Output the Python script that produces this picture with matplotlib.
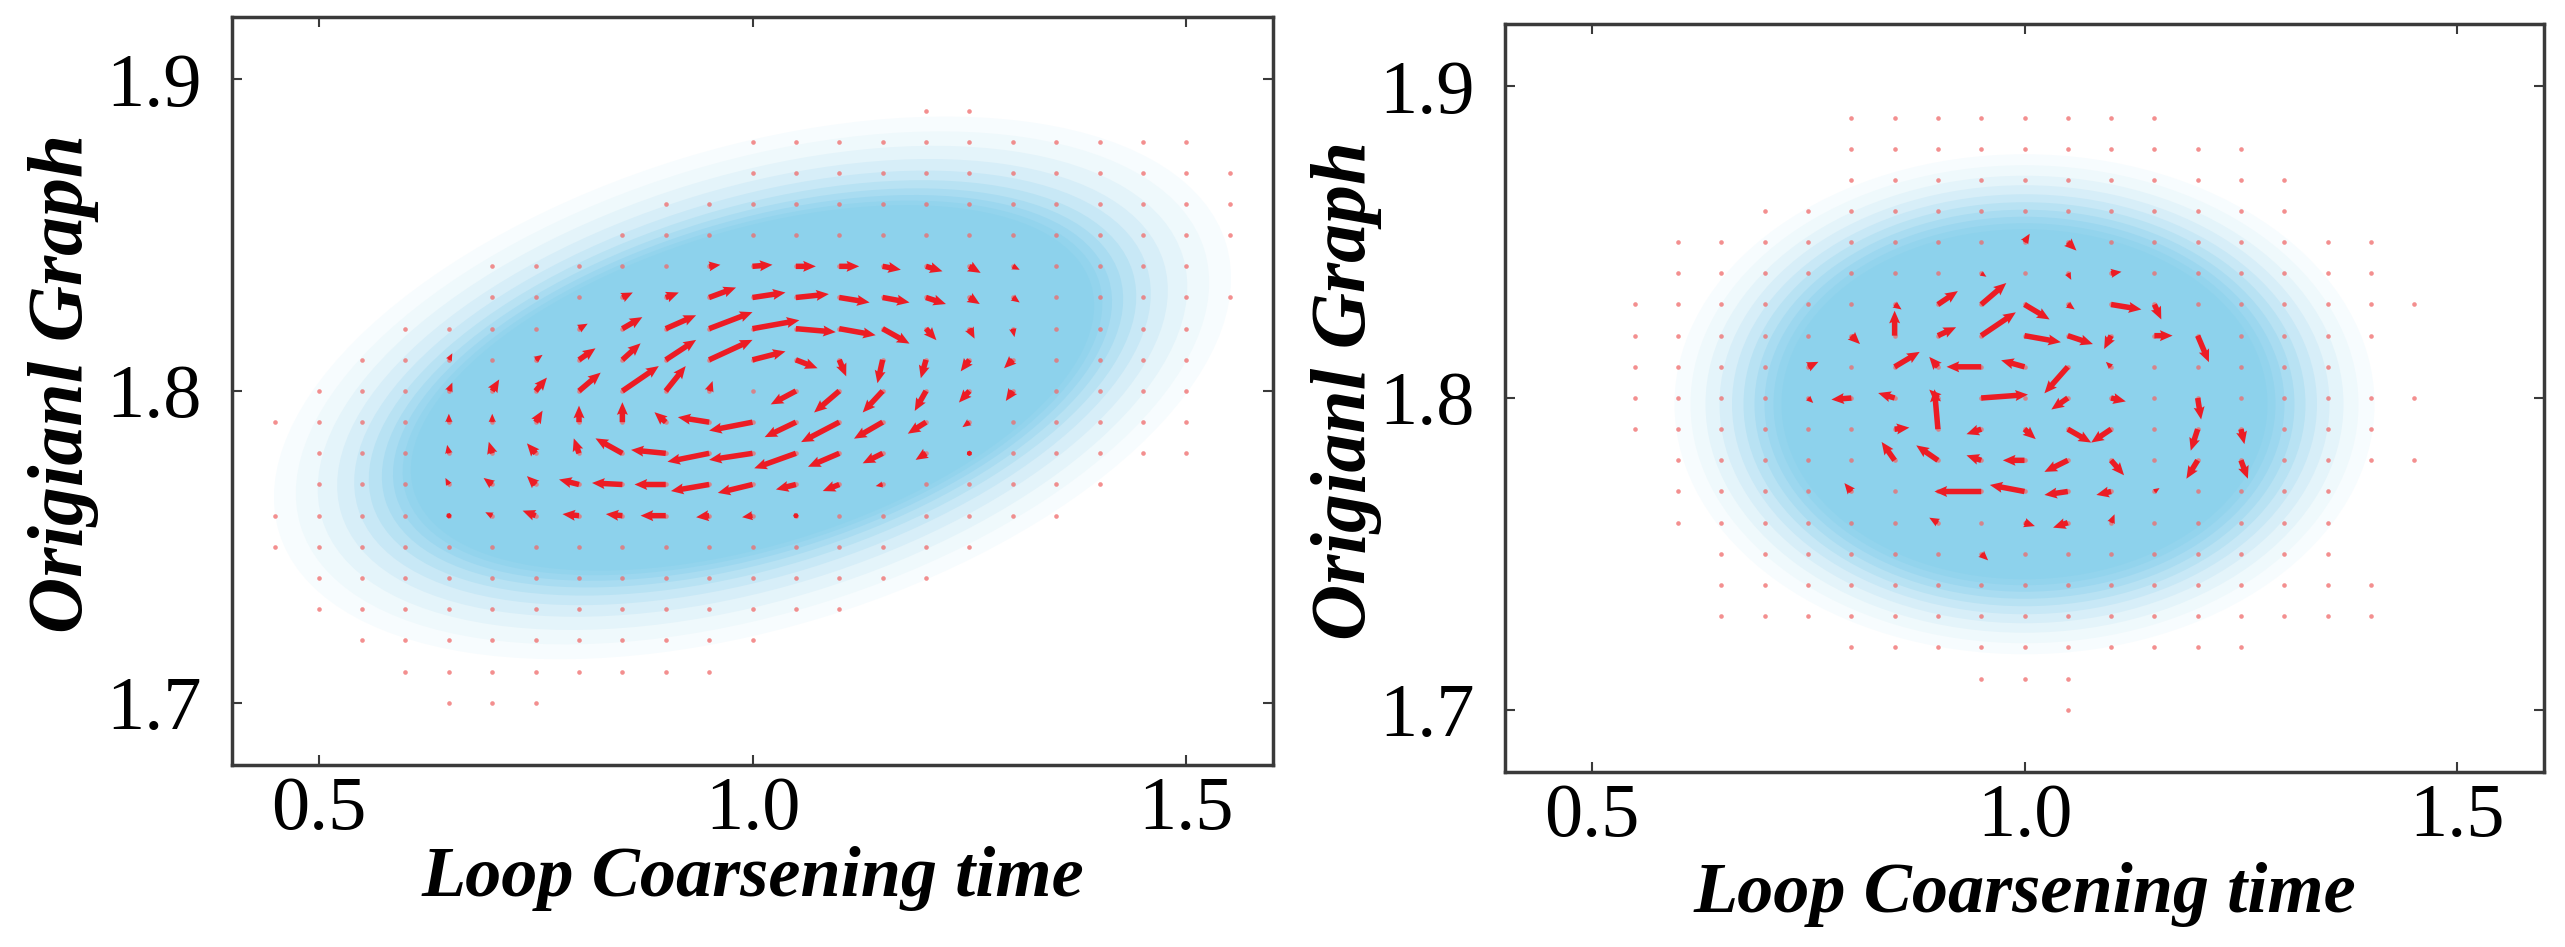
import numpy as np
import matplotlib
matplotlib.use("Agg")
import matplotlib.pyplot as plt
from matplotlib.patches import Ellipse
from matplotlib.transforms import ScaledTranslation

# ---------------- shared axis description ----------------
X_LIMITS = (0.4, 1.6)
Y_LIMITS = (1.68, 1.92)
X_TICKS = [0.5, 1.0, 1.5]
X_TICK_LABELS = ["0.5", "1.0", "1.5"]
Y_TICKS = [1.7, 1.8, 1.9]
Y_TICK_LABELS = ["1.7", "1.8", "1.9"]
X_LABEL = "Loop Coarsening time"
Y_LABEL = "Origianl Graph"
GRID_STEP_X = 0.05

# ---------------- left panel ----------------
# rows of the sampling grid and x-range where grid points are shown
LEFT_ROW_Y    = [1.70, 1.71, 1.72, 1.73, 1.74, 1.75, 1.76, 1.77, 1.78, 1.79,
                 1.80, 1.81, 1.82, 1.83, 1.84, 1.85, 1.86, 1.87, 1.88, 1.89]
LEFT_ROW_XMIN = [0.65, 0.60, 0.55, 0.50, 0.50, 0.45, 0.45, 0.50, 0.50, 0.45,
                 0.50, 0.55, 0.60, 0.70, 0.70, 0.85, 0.90, 1.00, 1.00, 1.20]
LEFT_ROW_XMAX = [0.75, 0.95, 1.00, 1.10, 1.20, 1.25, 1.35, 1.40, 1.50, 1.50,
                 1.50, 1.50, 1.50, 1.55, 1.50, 1.55, 1.55, 1.55, 1.50, 1.25]

# flow arrows (tail position and components in data units)
LEFT_ARROW_X = [
    0.95, 1.00, 1.05, 1.10, 1.15, 1.20, 1.25, 1.30,
    0.85, 0.90, 0.95, 1.00, 1.05, 1.10, 1.15, 1.20, 1.25, 1.30,
    0.80, 0.85, 0.90, 0.95, 1.00, 1.05, 1.10, 1.15, 1.20, 1.25, 1.30,
    0.65, 0.75, 0.80, 0.85, 0.90, 0.95, 1.00, 1.05, 1.10, 1.15, 1.20, 1.25, 1.30,
    0.65, 0.70, 0.75, 0.80, 0.85, 0.90, 0.95, 1.05, 1.10, 1.15, 1.20, 1.25, 1.30,
    0.65, 0.70, 0.75, 0.80, 0.85, 0.90, 0.95, 1.00, 1.05, 1.10, 1.15, 1.20, 1.25,
    0.65, 0.70, 0.75, 0.80, 0.85, 0.90, 0.95, 1.00, 1.05, 1.10, 1.15, 1.20, 1.25,
    0.65, 0.70, 0.75, 0.80, 0.85, 0.90, 0.95, 1.00, 1.05, 1.10, 1.15,
    0.65, 0.70, 0.75, 0.80, 0.85, 0.90, 0.95, 1.00, 1.05,
]
LEFT_ARROW_Y = (
    [1.84] * 8 + [1.83] * 10 + [1.82] * 11 + [1.81] * 13 + [1.80] * 13
    + [1.79] * 13 + [1.78] * 13 + [1.77] * 11 + [1.76] * 9
)
LEFT_ARROW_U = [
    0.013, 0.023, 0.023, 0.023, 0.021, 0.019, 0.013, 0.008,
    0.012, 0.015, 0.031, 0.038, 0.038, 0.035, 0.031, 0.023, 0.012, 0.008,
    0.010, 0.023, 0.035, 0.050, 0.054, 0.046, 0.042, 0.031, 0.012, 0.006, 0.002,
    0.004, 0.008, 0.019, 0.021, 0.035, 0.050, 0.038, 0.025, 0.008, -0.006, -0.006, -0.010, -0.010,
    0.004, 0.008, 0.013, 0.025, 0.042, 0.023, 0.004, -0.029, -0.029, -0.023, -0.013, -0.012, -0.008,
    0.000, 0.000, 0.008, 0.000, 0.000, -0.013, -0.036, -0.050, -0.036, -0.044, -0.033, -0.021, -0.008,
    -0.002, -0.004, -0.010, -0.006, -0.031, -0.040, -0.048, -0.050, -0.048, -0.036, -0.023, -0.012, -0.004,
    -0.004, -0.010, -0.010, -0.023, -0.035, -0.036, -0.044, -0.040, -0.023, -0.019, -0.008,
    -0.004, -0.008, -0.015, -0.019, -0.019, -0.029, -0.015, -0.012, -0.006,
]
LEFT_ARROW_V = [
    0.0005, 0.0005, 0.0000, 0.0000, -0.0011, -0.0016, -0.0021, -0.0011,
    0.0016, 0.0016, 0.0032, 0.0016, 0.0011, -0.0016, -0.0016, -0.0021, -0.0021, -0.0016,
    0.0016, 0.0037, 0.0043, 0.0053, 0.0027, -0.0011, -0.0021, -0.0048, -0.0037, -0.0032, -0.0027,
    0.0021, 0.0016, 0.0037, 0.0053, 0.0064, 0.0064, 0.0027, -0.0027, -0.0053, -0.0075, -0.0059, -0.0037, -0.0027,
    0.0027, 0.0037, 0.0043, 0.0059, 0.0080, 0.0080, 0.0032, -0.0043, -0.0069, -0.0069, -0.0064, -0.0037, -0.0032,
    0.0027, 0.0027, 0.0037, 0.0053, 0.0064, 0.0032, 0.0016, -0.0027, -0.0048, -0.0064, -0.0053, -0.0037, -0.0016,
    0.0027, 0.0037, 0.0032, 0.0048, 0.0048, 0.0011, -0.0027, -0.0021, -0.0048, -0.0043, -0.0032, -0.0021, -0.0005,
    0.0021, 0.0021, 0.0027, 0.0016, 0.0005, 0.0000, -0.0021, -0.0027, -0.0016, -0.0021, -0.0005,
    0.0011, 0.0011, 0.0016, 0.0005, 0.0005, 0.0000, -0.0005, -0.0005, 0.0000,
]

# point-cloud envelope (centre in data units, full axis lengths in pixels, screen angle)
LEFT_CLOUD_CENTER = (1.00, 1.801)
LEFT_CLOUD_ANGLE = 17.0
LEFT_CLOUD_W = [990, 945, 900, 860, 825, 795, 768, 745, 725, 708]
LEFT_CLOUD_H = [480, 452, 425, 400, 378, 360, 345, 333, 323, 315]

# ---------------- right panel ----------------
RIGHT_ROW_Y    = [1.70, 1.71, 1.72, 1.73, 1.74, 1.75, 1.76, 1.77, 1.78, 1.79,
                  1.80, 1.81, 1.82, 1.83, 1.84, 1.85, 1.86, 1.87, 1.88, 1.89]
RIGHT_ROW_XMIN = [1.05, 0.95, 0.80, 0.65, 0.65, 0.65, 0.60, 0.60, 0.60, 0.55,
                  0.55, 0.55, 0.55, 0.55, 0.60, 0.60, 0.70, 0.80, 0.80, 0.80]
RIGHT_ROW_XMAX = [1.05, 1.05, 1.25, 1.40, 1.40, 1.35, 1.35, 1.35, 1.45, 1.40,
                  1.45, 1.35, 1.40, 1.45, 1.40, 1.40, 1.30, 1.30, 1.25, 1.15]

RIGHT_ARROW_X = [
    1.00, 1.05,
    0.95, 1.05, 1.10,
    0.85, 0.90, 0.95, 1.00, 1.05, 1.10, 1.15,
    0.80, 0.85, 0.90, 0.95, 1.00, 1.05, 1.10, 1.15, 1.20,
    0.75, 0.85, 0.90, 0.95, 1.00, 1.05, 1.10,
    0.75, 0.80, 0.85, 0.90, 0.95, 1.05, 1.10, 1.20,
    0.85, 0.90, 0.95, 1.00, 1.05, 1.10, 1.20, 1.25,
    0.85, 0.90, 0.95, 1.00, 1.05, 1.10, 1.20, 1.25,
    0.80, 0.95, 1.00, 1.05, 1.10, 1.15,
    0.90, 1.00, 1.05, 1.10,
    0.95,
]
RIGHT_ARROW_Y = (
    [1.85] * 2 + [1.84] * 3 + [1.83] * 7 + [1.82] * 9 + [1.81] * 7
    + [1.80] * 8 + [1.79] * 8 + [1.78] * 8 + [1.77] * 6 + [1.76] * 4 + [1.75] * 1
)
RIGHT_ARROW_U = [
    0.006, 0.010,
    0.006, 0.004, 0.012,
    0.008, 0.023, 0.029, 0.029, 0.008, 0.035, 0.008,
    0.010, 0.000, 0.021, 0.040, 0.042, 0.029, -0.008, 0.021, 0.013,
    0.012, 0.029, -0.010, -0.040, -0.027, -0.027, -0.006,
    0.006, -0.023, -0.019, -0.010, 0.054, -0.019, 0.017, 0.004,
    0.017, -0.004, -0.017, 0.013, 0.027, -0.023, -0.008, 0.004,
    -0.015, -0.025, -0.017, -0.025, -0.027, 0.015, -0.013, 0.008,
    -0.008, -0.054, -0.040, -0.027, -0.017, 0.006,
    -0.010, 0.012, -0.017, 0.004,
    0.008,
]
RIGHT_ARROW_V = [
    0.0027, -0.0027,
    -0.0011, -0.0021, 0.0005,
    -0.0016, 0.0043, 0.0069, -0.0048, -0.0016, -0.0016, -0.0048,
    -0.0027, 0.0080, 0.0027, 0.0075, -0.0021, -0.0027, -0.0043, 0.0000, -0.0085,
    0.0016, 0.0048, 0.0032, 0.0000, 0.0021, -0.0085, 0.0016,
    -0.0016, -0.0005, 0.0016, 0.0027, 0.0011, -0.0037, -0.0011, -0.0069,
    0.0005, 0.0128, -0.0016, -0.0032, -0.0043, -0.0043, -0.0069, -0.0048,
    0.0059, 0.0048, 0.0016, 0.0000, -0.0037, -0.0048, -0.0059, -0.0059,
    0.0027, 0.0000, 0.0021, -0.0011, -0.0011, 0.0011,
    0.0016, -0.0011, -0.0016, 0.0027,
    -0.0021,
]

RIGHT_CLOUD_CENTER = (1.00, 1.798)
RIGHT_CLOUD_ANGLE = 0.0
RIGHT_CLOUD_W = [700, 668, 638, 610, 585, 562, 540, 520, 502, 486]
RIGHT_CLOUD_H = [500, 478, 457, 438, 420, 404, 389, 375, 362, 350]

# ---------------- style ----------------
CLOUD_COLORS = ["#f7fcfe", "#eff9fc", "#e4f4fa", "#d7eef8", "#c8e8f6",
                "#b8e2f3", "#a9dcf1", "#9cd7ef", "#93d4ed", "#8dd2ec"]
ARROW_COLOR = "#ec1c24"
DOT_COLOR = "#f06a6a"
FRAME_COLOR = "#3a3a3a"
SERIF = ["Liberation Serif", "DejaVu Serif"]

W_PX, H_PX, DPI = 2565, 947, 100
fig = plt.figure(figsize=(W_PX / DPI, H_PX / DPI), dpi=DPI)
fig.patch.set_facecolor("white")

panels = [
    dict(rect=[232 / W_PX, 1 - 765 / H_PX, 1041 / W_PX, 748 / H_PX],
         rows=(LEFT_ROW_Y, LEFT_ROW_XMIN, LEFT_ROW_XMAX),
         arrows=(LEFT_ARROW_X, LEFT_ARROW_Y, LEFT_ARROW_U, LEFT_ARROW_V),
         cloud=(LEFT_CLOUD_CENTER, LEFT_CLOUD_ANGLE, LEFT_CLOUD_W, LEFT_CLOUD_H),
         ylab_x=-0.128, xlab_y=-0.108),
    dict(rect=[1505 / W_PX, 1 - 772 / H_PX, 1039 / W_PX, 748 / H_PX],
         rows=(RIGHT_ROW_Y, RIGHT_ROW_XMIN, RIGHT_ROW_XMAX),
         arrows=(RIGHT_ARROW_X, RIGHT_ARROW_Y, RIGHT_ARROW_U, RIGHT_ARROW_V),
         cloud=(RIGHT_CLOUD_CENTER, RIGHT_CLOUD_ANGLE, RIGHT_CLOUD_W, RIGHT_CLOUD_H),
         ylab_x=-0.118, xlab_y=-0.12),
]

for p in panels:
    ax = fig.add_axes(p["rect"])
    ax.set_xlim(*X_LIMITS)
    ax.set_ylim(*Y_LIMITS)

    # cloud envelope
    (cx, cy), ang, ws, hs = p["cloud"]
    offset = ScaledTranslation(cx, cy, ax.transData)
    for w, h, c in zip(ws, hs, CLOUD_COLORS):
        e = Ellipse((0, 0), w / DPI, h / DPI, angle=ang, facecolor=c,
                    edgecolor="none", transform=fig.dpi_scale_trans + offset, zorder=1)
        ax.add_patch(e)
        e.set_clip_path(ax.patch)

    # grid points
    ry, rxmin, rxmax = p["rows"]
    gx, gy = [], []
    for y, x0, x1 in zip(ry, rxmin, rxmax):
        xs = np.round(np.arange(x0, x1 + 1e-9, GRID_STEP_X), 2)
        gx.extend(xs)
        gy.extend([y] * len(xs))
    ax.scatter(gx, gy, s=11, color=DOT_COLOR, alpha=0.75, linewidths=0, zorder=2)

    # arrows
    axx, ayy, auu, avv = p["arrows"]
    ax.quiver(axx, ayy, auu, avv, angles="xy", scale_units="xy", scale=1,
              units="dots", width=5.5, headwidth=2.0, headlength=2.3,
              headaxislength=2.1, color=ARROW_COLOR, zorder=3)

    # axes styling
    ax.set_xticks(X_TICKS)
    ax.set_xticklabels(X_TICK_LABELS)
    ax.set_yticks(Y_TICKS)
    ax.set_yticklabels(Y_TICK_LABELS)
    ax.tick_params(direction="in", length=7, width=1.5, color=FRAME_COLOR,
                   top=True, right=True, labelsize=55)
    ax.tick_params(axis="x", pad=8)
    ax.tick_params(axis="y", pad=22)
    for lab in ax.get_xticklabels() + ax.get_yticklabels():
        lab.set_fontfamily(SERIF)
    for s in ax.spines.values():
        s.set_linewidth(2.5)
        s.set_color(FRAME_COLOR)
        s.set_zorder(5)

    ax.set_xlabel(X_LABEL, fontsize=52, fontstyle="italic", fontweight="bold",
                  family=SERIF)
    ax.set_ylabel(Y_LABEL, fontsize=56, fontstyle="italic", fontweight="bold",
                  family=SERIF)
    ax.xaxis.set_label_coords(0.5, p["xlab_y"])
    ax.yaxis.set_label_coords(p["ylab_x"], 0.51)

fig.savefig("out.png", dpi=DPI, facecolor="white")
